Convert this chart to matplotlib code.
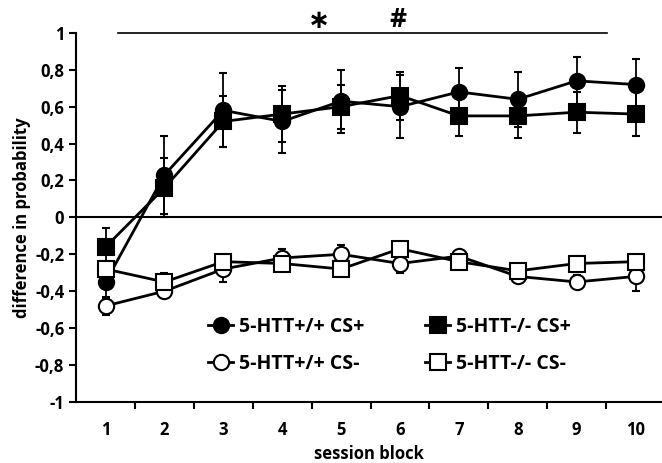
import matplotlib.pyplot as plt
from matplotlib.lines import Line2D

plt.rcParams['font.family'] = ['Open Sans', 'DejaVu Sans']
plt.rcParams['font.weight'] = 'bold'

blocks = [1, 2, 3, 4, 5, 6, 7, 8, 9, 10]

wt_cs_plus = [-0.35, 0.23, 0.58, 0.52, 0.63, 0.60, 0.68, 0.64, 0.74, 0.72]
wt_cs_plus_err = [0.09, 0.21, 0.20, 0.17, 0.17, 0.17, 0.13, 0.15, 0.13, 0.14]
ko_cs_plus = [-0.16, 0.16, 0.52, 0.56, 0.60, 0.66, 0.55, 0.55, 0.57, 0.56]
ko_cs_plus_err = [0.10, 0.16, 0.14, 0.15, 0.12, 0.13, 0.11, 0.12, 0.11, 0.12]
wt_cs_minus = [-0.48, -0.40, -0.28, -0.22, -0.20, -0.25, -0.21, -0.32, -0.35, -0.32]
wt_cs_minus_err = [0.05, 0.03, 0.07, 0.05, 0.05, 0.05, 0.03, 0.03, 0.04, 0.08]
ko_cs_minus = [-0.28, -0.35, -0.24, -0.25, -0.28, -0.17, -0.24, -0.29, -0.25, -0.24]
ko_cs_minus_err = [0.04, 0.05, 0.03, 0.03, 0.03, 0.03, 0.04, 0.03, 0.04, 0.03]

series = [
    ("5-HTT+/+ CS+", wt_cs_plus, wt_cs_plus_err, 'o', 'black'),
    ("5-HTT-/- CS+", ko_cs_plus, ko_cs_plus_err, 's', 'black'),
    ("5-HTT+/+ CS-", wt_cs_minus, wt_cs_minus_err, 'o', 'white'),
    ("5-HTT-/- CS-", ko_cs_minus, ko_cs_minus_err, 's', 'white'),
]

fig = plt.figure(figsize=(6.62, 4.63), dpi=100)
ax = fig.add_axes([0.115, 0.132, 0.885, 0.797])

handles = {}
for label, vals, err, mk, fc in series:
    ax.errorbar(blocks, vals, yerr=err, color='black', lw=2, marker=mk,
                markersize=11, markerfacecolor=fc, markeredgecolor='black',
                markeredgewidth=1.5, ecolor='black', elinewidth=1.3,
                capsize=3, capthick=1.3, zorder=3)
    handles[label] = Line2D([], [], color='black', lw=2, marker=mk,
                            markersize=11, markerfacecolor=fc,
                            markeredgecolor='black', markeredgewidth=1.5)

ax.axhline(0, color='black', lw=1.5, zorder=1)

ax.set_xlim(0.5, 10.45)
ax.set_ylim(-1, 1)
ax.spines['top'].set_visible(False)
ax.spines['right'].set_visible(False)
ax.spines['left'].set_linewidth(1.5)
ax.spines['bottom'].set_linewidth(1.5)

yticks = [1, 0.8, 0.6, 0.4, 0.2, 0, -0.2, -0.4, -0.6, -0.8, -1]
ax.set_yticks(yticks)
ax.set_yticklabels([('%g' % t).replace('.', ',') for t in yticks])
ax.set_xticks([b + 0.5 for b in blocks[:-1]])
ax.set_xticklabels([])
ax.set_xticks(blocks, minor=True)
ax.set_xticklabels([str(b) for b in blocks], minor=True)
ax.tick_params(axis='x', which='minor', length=0, pad=14)
ax.tick_params(axis='both', which='major', width=1.5, length=5, labelsize=12)
ax.tick_params(axis='x', which='minor', labelsize=12)

ax.set_xlabel("session block", fontsize=12, fontweight='bold', labelpad=4)
ax.set_ylabel("difference in probability", fontsize=12, fontweight='bold', labelpad=3)

# significance bar
ax.plot([1.21, 9.52], [1.0, 1.0], color='black', lw=1.2, clip_on=False)
ax.text(4.63, 1.065, "\u2217", ha='center', va='center', fontsize=19,
        fontweight='bold', family='DejaVu Sans')
ax.text(5.97, 1.07, "#", ha='center', va='center', fontsize=19, fontweight='bold')

order = ["5-HTT+/+ CS+", "5-HTT+/+ CS-", "5-HTT-/- CS+", "5-HTT-/- CS-"]
ax.legend([handles[k] for k in order], order, ncol=2, frameon=False,
          loc='center', bbox_to_anchor=(0.535, 0.153), fontsize=14,
          columnspacing=3.1, handlelength=1.3, handletextpad=0.3,
          labelspacing=0.9)

fig.savefig("out.png", dpi=100)
